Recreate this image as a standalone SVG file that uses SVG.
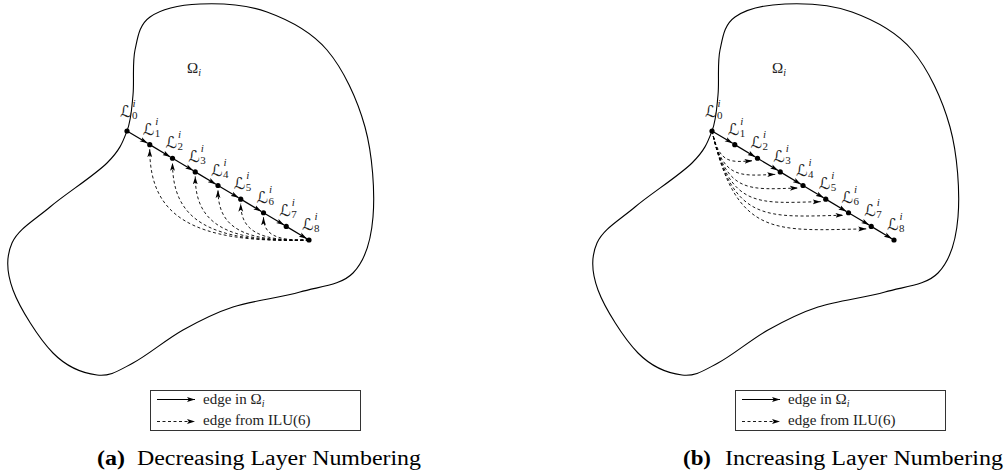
<svg xmlns="http://www.w3.org/2000/svg" xmlns:xlink="http://www.w3.org/1999/xlink" width="1006" height="474" viewBox="0 0 1006 474">
<style>
.blob{fill:none;stroke:#000;stroke-width:1.1}
.edge{fill:none;stroke:#000;stroke-width:1.2;marker-end:url(#ah)}
.ilu{fill:none;stroke:#000;stroke-width:0.9;stroke-dasharray:3 2.5;marker-end:url(#ah)}
.dot{fill:#000}
.lab{font-family:'DejaVu Serif','DejaVu Sans',serif;font-size:16px;fill:#222}
.sm{font-family:'Liberation Serif','Times New Roman','DejaVu Serif',serif;font-size:11px;fill:#222}
.it{font-style:italic}
.txt{font-family:'Liberation Serif','Times New Roman','DejaVu Serif',serif;font-size:15px;fill:#222}
.cap{font-family:'Liberation Serif','Times New Roman','DejaVu Serif',serif;font-size:20px;fill:#000}
.box{fill:none;stroke:#333;stroke-width:1}
</style>
<defs>
<marker id="ah" viewBox="0 0 8 6" refX="8" refY="3" markerWidth="8" markerHeight="6" markerUnits="userSpaceOnUse" orient="auto"><path d="M0,0.6 L8,3 L0,5.4 L1.8,3 z" fill="#000"/></marker>
<path id="blobpath" class="blob" d="M127,131 C131.33,119.67 131.67,108.5 133,95 C134.33,81.5 132.17,63 135,50 C137.83,37 139.17,24.67 150,17 C160.83,9.33 180.5,4.83 200,4 C219.5,3.17 245.83,4.33 267,12 C288.17,19.67 310.67,30.83 327,50 C343.33,69.17 357.33,99.17 365,127 C372.67,154.83 375,192.67 373,217 C371,241.33 365.17,260.5 353,273 C340.83,285.5 320,286.33 300,292 C280,297.67 252.5,300.67 233,307 C213.5,313.33 199.67,320.67 183,330 C166.33,339.33 147.33,355.5 133,363 C118.67,370.5 110.33,376.67 97,375 C83.67,373.33 67,367.17 53,353 C39,338.83 19.83,308.33 13,290 C6.17,271.67 5.83,256.83 12,243 C18.17,229.17 34.17,220.33 50,207 C65.83,193.67 94.17,175.67 107,163 C119.83,150.33 122.67,142.33 127,131 Z"/>
</defs>

<g id="domain-a"><use xlink:href="#blobpath" href="#blobpath"/><text class="txt" x="187" y="73">Ω<tspan class="it" font-size="10" dy="2.5">i</tspan></text></g>
<g id="domain-b"><use xlink:href="#blobpath" href="#blobpath" x="585"/><text class="txt" x="772" y="73">Ω<tspan class="it" font-size="10" dy="2.5">i</tspan></text></g>

<g id="connectors">
<g id="edges-a">
<line class="edge" x1="127" y1="131" x2="147.65" y2="143.33"/>
<line class="edge" x1="149.75" y1="144.63" x2="170.4" y2="156.95"/>
<line class="edge" x1="172.5" y1="158.25" x2="193.15" y2="170.58"/>
<line class="edge" x1="195.25" y1="171.88" x2="215.9" y2="184.2"/>
<line class="edge" x1="218" y1="185.5" x2="238.65" y2="197.83"/>
<line class="edge" x1="240.75" y1="199.13" x2="261.4" y2="211.45"/>
<line class="edge" x1="263.5" y1="212.75" x2="284.15" y2="225.08"/>
<line class="edge" x1="286.25" y1="226.38" x2="306.9" y2="238.7"/>
<path class="ilu" d="M309,240 C189.56,244 149.75,214.56 149.75,149.13"/>
<path class="ilu" d="M309,240 C206.63,243.43 172.5,218.37 172.5,162.75"/>
<path class="ilu" d="M309,240 C223.69,242.86 195.25,222.19 195.25,176.38"/>
<path class="ilu" d="M309,240 C240.75,242.29 218,226 218,190"/>
<path class="ilu" d="M309,240 C257.81,241.72 240.75,229.82 240.75,203.63"/>
<path class="ilu" d="M309,240 C274.88,241.14 263.5,233.63 263.5,217.25"/>
</g>
<g id="edges-b">
<line class="edge" x1="712" y1="131" x2="732.65" y2="143.33"/>
<line class="edge" x1="734.75" y1="144.63" x2="755.4" y2="156.95"/>
<line class="edge" x1="757.5" y1="158.25" x2="778.15" y2="170.58"/>
<line class="edge" x1="780.25" y1="171.88" x2="800.9" y2="184.2"/>
<line class="edge" x1="803" y1="185.5" x2="823.65" y2="197.83"/>
<line class="edge" x1="825.75" y1="199.13" x2="846.4" y2="211.45"/>
<line class="edge" x1="848.5" y1="212.75" x2="869.15" y2="225.08"/>
<line class="edge" x1="871.25" y1="226.38" x2="891.9" y2="238.7"/>
<path class="ilu" d="M712,131 C719.56,164.28 730.2,162.25 752.5,160.75"/>
<path class="ilu" d="M712,131 C722.97,179.27 739.3,175.88 775.25,174.38"/>
<path class="ilu" d="M712,131 C726.38,194.25 748.4,189.5 798,188"/>
<path class="ilu" d="M712,131 C729.78,209.24 757.5,203.13 820.75,201.63"/>
<path class="ilu" d="M712,131 C733.19,224.23 766.6,216.75 843.5,215.25"/>
<path class="ilu" d="M712,131 C736.6,239.22 775.7,230.38 866.25,228.88"/>
</g>
</g>

<g id="a-L0"><circle class="dot" cx="127" cy="131" r="2.6"/><text class="lab" x="120" y="117">ℒ</text><text class="sm" x="132" y="119">0</text><text class="sm it" x="132.5" y="107">i</text></g>
<g id="a-L1"><circle class="dot" cx="149.75" cy="144.63" r="2.6"/><text class="lab" x="142.75" y="134.63">ℒ</text><text class="sm" x="154.75" y="136.63">1</text><text class="sm it" x="155.25" y="124.63">i</text></g>
<g id="a-L2"><circle class="dot" cx="172.5" cy="158.25" r="2.6"/><text class="lab" x="165.5" y="148.25">ℒ</text><text class="sm" x="177.5" y="150.25">2</text><text class="sm it" x="178" y="138.25">i</text></g>
<g id="a-L3"><circle class="dot" cx="195.25" cy="171.88" r="2.6"/><text class="lab" x="188.25" y="161.88">ℒ</text><text class="sm" x="200.25" y="163.88">3</text><text class="sm it" x="200.75" y="151.88">i</text></g>
<g id="a-L4"><circle class="dot" cx="218" cy="185.5" r="2.6"/><text class="lab" x="211" y="175.5">ℒ</text><text class="sm" x="223" y="177.5">4</text><text class="sm it" x="223.5" y="165.5">i</text></g>
<g id="a-L5"><circle class="dot" cx="240.75" cy="199.13" r="2.6"/><text class="lab" x="233.75" y="189.13">ℒ</text><text class="sm" x="245.75" y="191.13">5</text><text class="sm it" x="246.25" y="179.13">i</text></g>
<g id="a-L6"><circle class="dot" cx="263.5" cy="212.75" r="2.6"/><text class="lab" x="256.5" y="202.75">ℒ</text><text class="sm" x="268.5" y="204.75">6</text><text class="sm it" x="269" y="192.75">i</text></g>
<g id="a-L7"><circle class="dot" cx="286.25" cy="226.38" r="2.6"/><text class="lab" x="279.25" y="216.38">ℒ</text><text class="sm" x="291.25" y="218.38">7</text><text class="sm it" x="291.75" y="206.38">i</text></g>
<g id="a-L8"><circle class="dot" cx="309" cy="240" r="2.6"/><text class="lab" x="302" y="230">ℒ</text><text class="sm" x="314" y="232">8</text><text class="sm it" x="314.5" y="220">i</text></g>

<g id="b-L0"><circle class="dot" cx="712" cy="131" r="2.6"/><text class="lab" x="705" y="117">ℒ</text><text class="sm" x="717" y="119">0</text><text class="sm it" x="717.5" y="107">i</text></g>
<g id="b-L1"><circle class="dot" cx="734.75" cy="144.63" r="2.6"/><text class="lab" x="727.75" y="134.63">ℒ</text><text class="sm" x="739.75" y="136.63">1</text><text class="sm it" x="740.25" y="124.63">i</text></g>
<g id="b-L2"><circle class="dot" cx="757.5" cy="158.25" r="2.6"/><text class="lab" x="750.5" y="148.25">ℒ</text><text class="sm" x="762.5" y="150.25">2</text><text class="sm it" x="763" y="138.25">i</text></g>
<g id="b-L3"><circle class="dot" cx="780.25" cy="171.88" r="2.6"/><text class="lab" x="773.25" y="161.88">ℒ</text><text class="sm" x="785.25" y="163.88">3</text><text class="sm it" x="785.75" y="151.88">i</text></g>
<g id="b-L4"><circle class="dot" cx="803" cy="185.5" r="2.6"/><text class="lab" x="796" y="175.5">ℒ</text><text class="sm" x="808" y="177.5">4</text><text class="sm it" x="808.5" y="165.5">i</text></g>
<g id="b-L5"><circle class="dot" cx="825.75" cy="199.13" r="2.6"/><text class="lab" x="818.75" y="189.13">ℒ</text><text class="sm" x="830.75" y="191.13">5</text><text class="sm it" x="831.25" y="179.13">i</text></g>
<g id="b-L6"><circle class="dot" cx="848.5" cy="212.75" r="2.6"/><text class="lab" x="841.5" y="202.75">ℒ</text><text class="sm" x="853.5" y="204.75">6</text><text class="sm it" x="854" y="192.75">i</text></g>
<g id="b-L7"><circle class="dot" cx="871.25" cy="226.38" r="2.6"/><text class="lab" x="864.25" y="216.38">ℒ</text><text class="sm" x="876.25" y="218.38">7</text><text class="sm it" x="876.75" y="206.38">i</text></g>
<g id="b-L8"><circle class="dot" cx="894" cy="240" r="2.6"/><text class="lab" x="887" y="230">ℒ</text><text class="sm" x="899" y="232">8</text><text class="sm it" x="899.5" y="220">i</text></g>

<g id="legend-a">
<rect class="box" x="150.5" y="390.5" width="210" height="40"/>
<line class="edge" x1="157" y1="399.5" x2="195" y2="399.5"/>
<line class="ilu" x1="157" y1="421.5" x2="195" y2="421.5"/>
<text class="txt" x="203" y="404">edge in Ω<tspan class="it" font-size="10" dy="2.5">i</tspan></text>
<text class="txt" x="203" y="425">edge from ILU(6)</text>
</g>
<g id="legend-b">
<rect class="box" x="735.5" y="390.5" width="210" height="40"/>
<line class="edge" x1="742" y1="399.5" x2="780" y2="399.5"/>
<line class="ilu" x1="742" y1="421.5" x2="780" y2="421.5"/>
<text class="txt" x="788" y="404">edge in Ω<tspan class="it" font-size="10" dy="2.5">i</tspan></text>
<text class="txt" x="788" y="425">edge from ILU(6)</text>
</g>

<g id="caption-a">
<text class="cap" x="97" y="465" font-weight="bold" textLength="28" lengthAdjust="spacingAndGlyphs">(a)</text>
<text class="cap" x="137" y="465" textLength="284" lengthAdjust="spacingAndGlyphs">Decreasing Layer Numbering</text>
</g>
<g id="caption-b">
<text class="cap" x="683" y="465" font-weight="bold" textLength="28" lengthAdjust="spacingAndGlyphs">(b)</text>
<text class="cap" x="725" y="465" textLength="278" lengthAdjust="spacingAndGlyphs">Increasing Layer Numbering</text>
</g>
</svg>
